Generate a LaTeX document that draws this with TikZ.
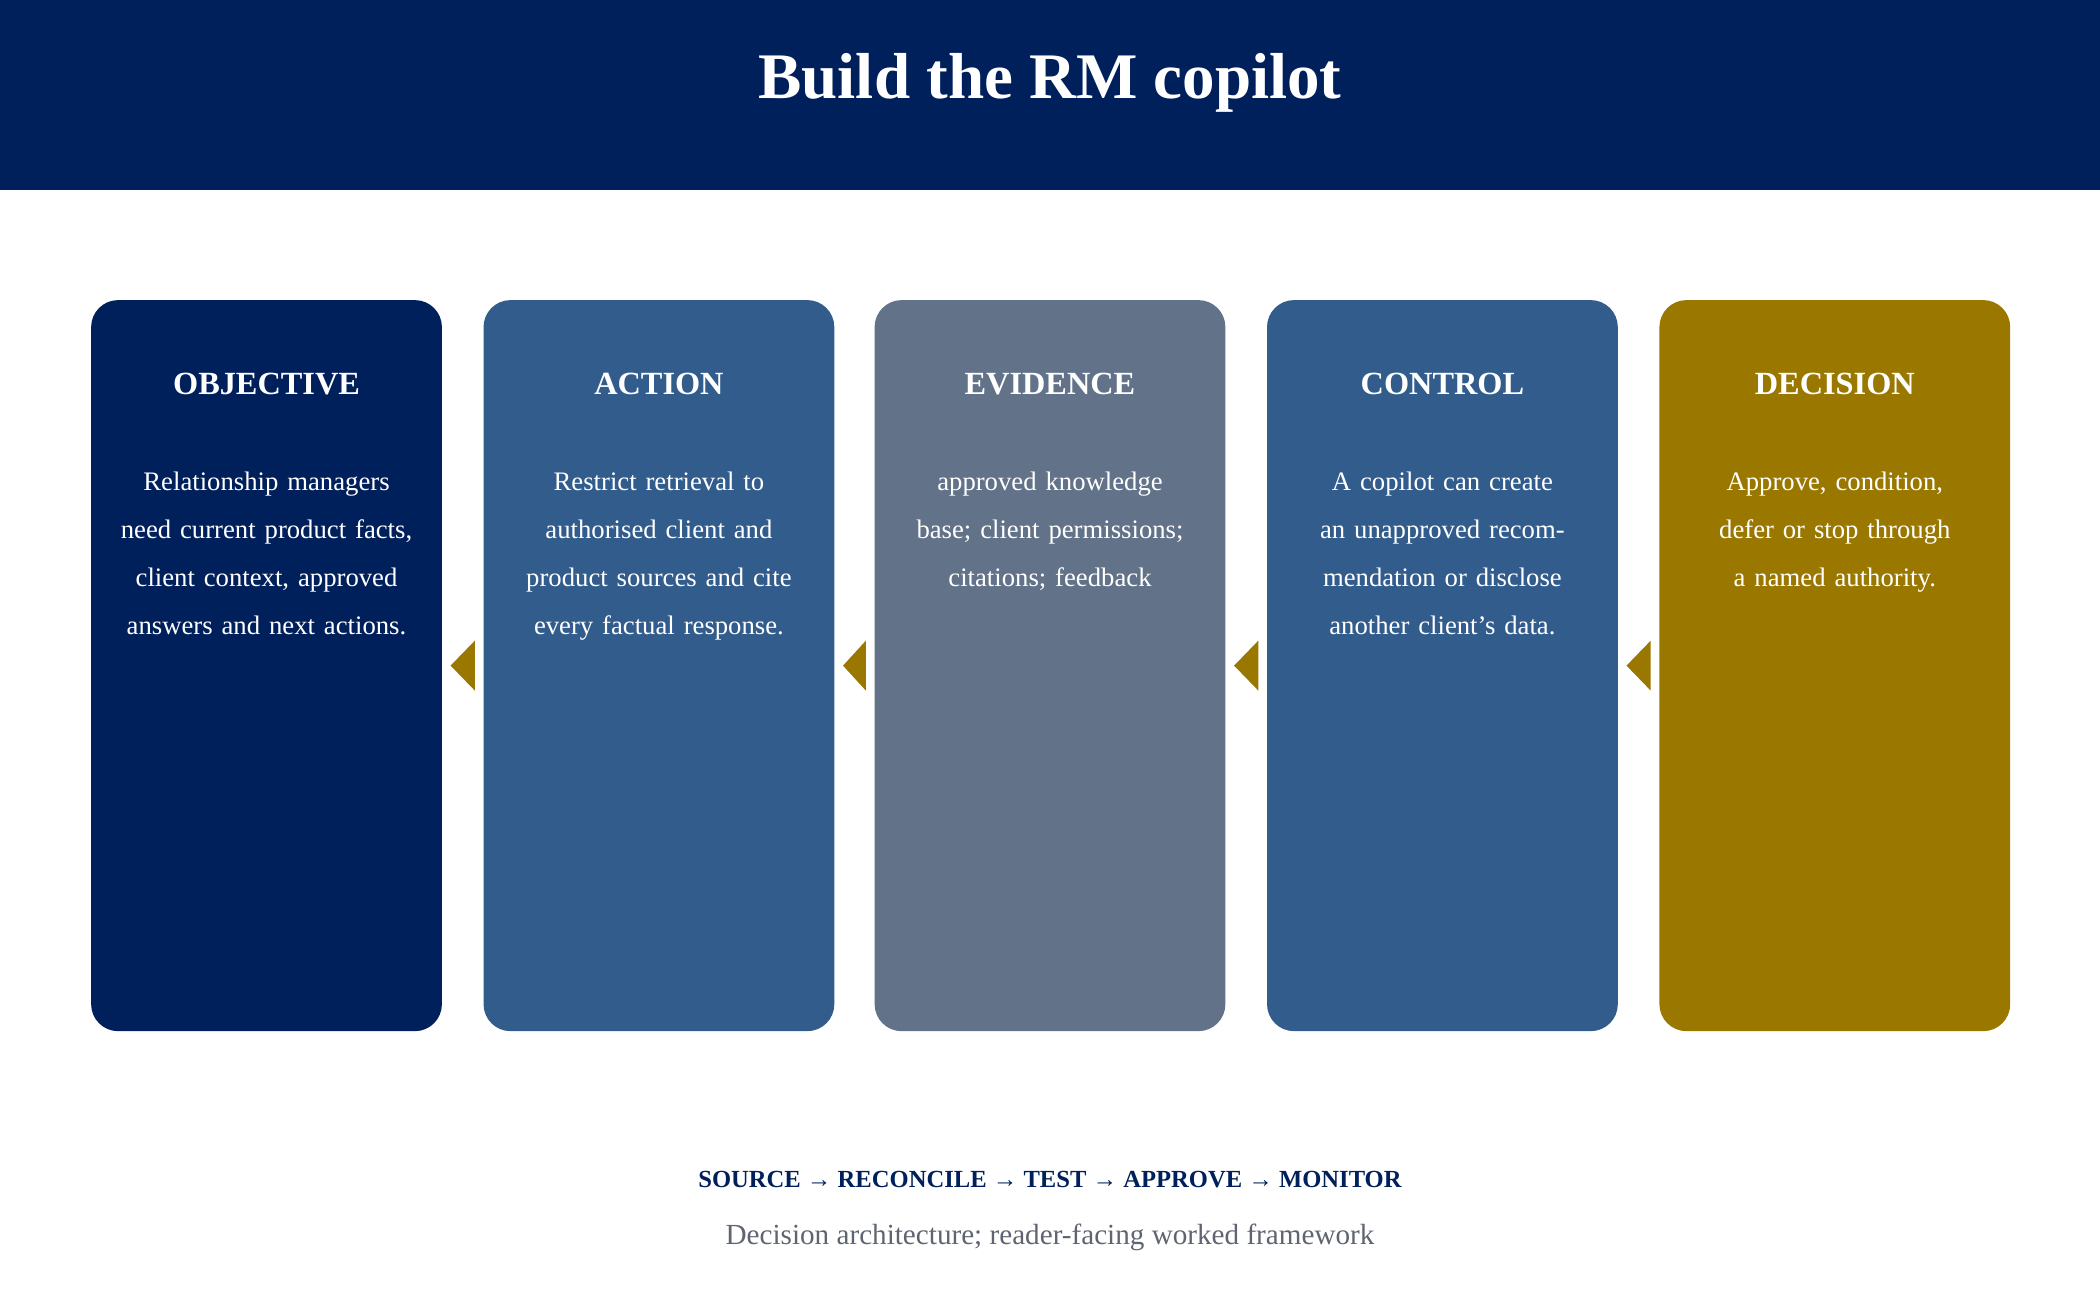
\documentclass[tikz,border=0pt]{standalone}
\usepackage{fontspec}
\setmainfont{Liberation Serif}
\usetikzlibrary{positioning}
\definecolor{navy}{HTML}{00205C}
\definecolor{steel}{HTML}{315C8C}
\definecolor{slate}{HTML}{627289}
\definecolor{gold}{HTML}{9A7800}
\definecolor{subgray}{HTML}{5F6570}
\tikzset{
  panel/.style={fill=#1, rounded corners=0.27cm, minimum width=3.509cm,
    minimum height=7.313cm, inner sep=0pt},
  head/.style={text=white, font=\fontsize{9.2}{11}\selectfont\bfseries},
  body/.style={text=white, align=center, text width=3.0cm, anchor=north,
    font=\fontsize{7.6}{13.7}\selectfont},
  pointer/.style={fill=gold}
}
\begin{document}
\begin{tikzpicture}[x=0.013393cm, y=-0.013393cm]
  \useasboundingbox (0,0) rectangle (1568,970.7);
  \fill[navy] (0,0) rectangle (1568,142);
  \node[text=white, font=\fontsize{18.5}{22}\selectfont\bfseries] (title) at (784,62) {Build the RM copilot};
  % panels
  \node[panel=navy]  (objective) at (199,497) {};
  \node[panel=steel] (action)    at (492,497) {};
  \node[panel=slate] (evidence)  at (784,497) {};
  \node[panel=steel] (control)   at (1077,497) {};
  \node[panel=gold]  (decision)  at (1370,497) {};
  \foreach \p/\h in {objective/OBJECTIVE, action/ACTION, evidence/EVIDENCE,
      control/CONTROL, decision/DECISION}
    \node[head] (\p-head) at ([yshift=-0.85cm]\p.north) {\h};
  \node[body] (objective-text) at ([yshift=-1.6cm]objective.north)
    {Relationship managers need current product facts, client context, approved answers and next actions.};
  \node[body] (action-text) at ([yshift=-1.6cm]action.north)
    {Restrict retrieval to authorised client and product sources and cite every factual response.};
  \node[body] (evidence-text) at ([yshift=-1.6cm]evidence.north)
    {approved knowledge base; client permissions; citations; feedback};
  \node[body] (control-text) at ([yshift=-1.6cm]control.north)
    {A copilot can create an unapproved recommendation or disclose another client's data.};
  \node[body] (decision-text) at ([yshift=-1.6cm]decision.north)
    {Approve, condition, defer or stop through a named authority.};
  % pointers between panels
  \foreach \a/\b in {objective/action, action/evidence, evidence/control, control/decision}
    \fill[pointer] ([xshift=0.08cm]\a.east) -- ([xshift=-0.08cm,yshift=0.25cm]\b.west)
      -- ([xshift=-0.08cm,yshift=-0.25cm]\b.west) -- cycle;
  \node[text=navy, font=\fontsize{7}{9}\selectfont\bfseries] (flow) at (784,881)
    {SOURCE → RECONCILE → TEST → APPROVE → MONITOR};
  \node[text=subgray, font=\fontsize{8.3}{10}\selectfont] (caption) at (784,924)
    {Decision architecture; reader-facing worked framework};
\end{tikzpicture}
\end{document}
